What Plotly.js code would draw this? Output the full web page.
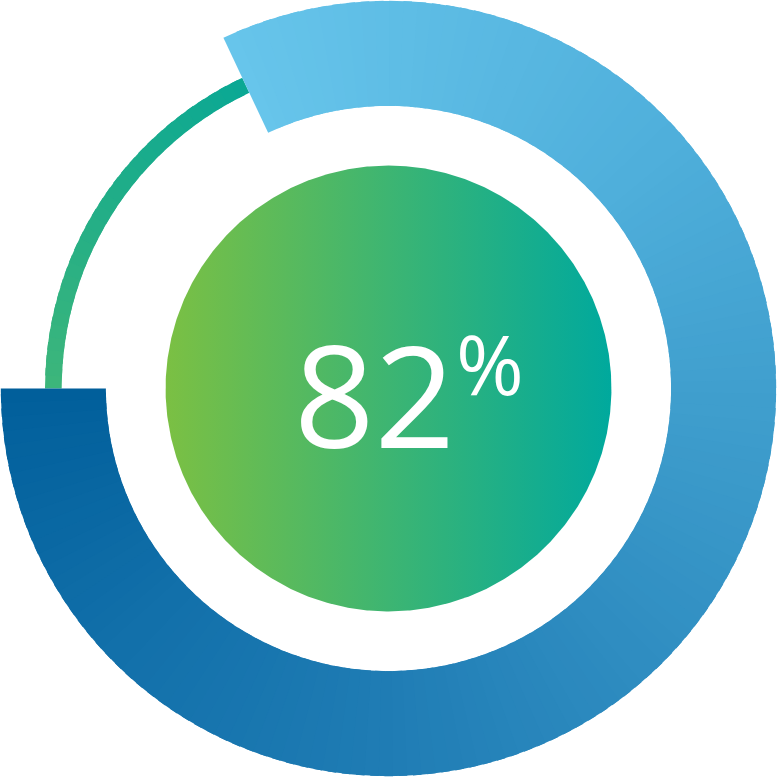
<!DOCTYPE html>
<html>
<head>
<meta charset="utf-8">
<script src="https://cdn.plot.ly/plotly-3.0.1.min.js"></script>
<style>
  html, body { margin: 0; padding: 0; background: #ffffff; }
  #chart { width: 777px; height: 777px; }
</style>
</head>
<body>
<div id="chart"></div>
<script>
// chart values
const labels = ["Complete", "Remaining"];
const values = [82, 18];
const valueText = ["82", "%"];

// ring geometry (unit = outer radius)
const R_OUTER = 1.0;
const R_INNER = 0.729;
const THIN_OUT = 0.886;
const THIN_IN = 0.843;
const R_CORE = 0.575;
const START_DEG = 270; // remainder starts at 9 o'clock, runs clockwise

const mainScale = [
  [0, "#67c5eb"],
  [0.25, "#4fafdb"],
  [0.4, "#3f9ecd"],
  [0.55, "#2f8dc1"],
  [0.7, "#1f7cb4"],
  [0.85, "#1270aa"],
  [1, "#015f9b"],
];
const restScale = [
  [0, "#3db67b"],
  [0.5, "#22ae87"],
  [1, "#0aa894"],
];

function hexToRgb(h) {
  const n = parseInt(h.slice(1), 16);
  return [(n >> 16) & 255, (n >> 8) & 255, n & 255];
}

function pickColor(scale, t) {
  for (let i = 1; i < scale.length; i++) {
    if (t <= scale[i][0]) {
      const [t0, c0] = scale[i - 1];
      const [t1, c1] = scale[i];
      const f = (t - t0) / (t1 - t0 || 1);
      const a = hexToRgb(c0), b = hexToRgb(c1);
      const c = a.map((v, k) => Math.round(v + (b[k] - v) * f));
      return `rgb(${c[0]},${c[1]},${c[2]})`;
    }
  }
  return scale[scale.length - 1][1];
}

// angles in degrees, clockwise from 12 o'clock
function arcPolygon(a0, a1, r0, r1) {
  const n = Math.max(2, Math.ceil(Math.abs(a1 - a0) / 0.5));
  const xs = [], ys = [];
  for (let i = 0; i <= n; i++) {
    const a = ((a0 + (a1 - a0) * i / n) * Math.PI) / 180;
    xs.push(r1 * Math.sin(a));
    ys.push(r1 * Math.cos(a));
  }
  for (let i = n; i >= 0; i--) {
    const a = ((a0 + (a1 - a0) * i / n) * Math.PI) / 180;
    xs.push(r0 * Math.sin(a));
    ys.push(r0 * Math.cos(a));
  }
  xs.push(xs[0]);
  ys.push(ys[0]);
  return { x: xs, y: ys };
}

// split an arc into small solid pieces to fake a conic gradient
function gradientArc(a0, a1, r0, r1, scale, pieces, name) {
  const step = (a1 - a0) / pieces;
  const traces = [];
  for (let i = 0; i < pieces; i++) {
    const s = a0 + step * i;
    // overlap the next piece a bit so no seams show
    const e = i < pieces - 1 ? s + step * 1.6 : a1;
    const p = arcPolygon(s, e, r0, r1);
    const col = pickColor(scale, (i + 0.5) / pieces);
    traces.push({
      type: "scatter",
      mode: "lines",
      name: name,
      x: p.x,
      y: p.y,
      fill: "toself",
      fillcolor: col,
      line: { width: 0, color: col },
      hoverinfo: "skip",
      showlegend: false,
    });
  }
  return traces;
}

const total = values.reduce((a, b) => a + b, 0);
const restSpan = (values[1] / total) * 360;
const restEnd = START_DEG + restSpan;

const data = [];
// thin remainder arc: 9 o'clock -> end of remainder
data.push(...gradientArc(START_DEG, restEnd, THIN_IN, THIN_OUT, restScale, 30, labels[1]));
// thick progress arc: from end of remainder round to 9 o'clock
data.push(...gradientArc(restEnd, START_DEG + 360, R_INNER, R_OUTER, mainScale, 140, labels[0]));

// center disc with horizontal gradient
const core = arcPolygon(0, 360, 0, R_CORE);
data.push({
  type: "scatter",
  mode: "lines",
  x: core.x.slice(0, core.x.length / 2),
  y: core.y.slice(0, core.y.length / 2),
  fill: "toself",
  fillgradient: {
    type: "horizontal",
    colorscale: [
      [0, "#7bc043"],
      [0.5, "#3db572"],
      [1, "#00a99d"],
    ],
  },
  line: { width: 0 },
  hoverinfo: "skip",
  showlegend: false,
});

const layout = {
  width: 777,
  height: 777,
  margin: { l: 0, r: 0, t: 0, b: 0, pad: 0 },
  paper_bgcolor: "#ffffff",
  plot_bgcolor: "#ffffff",
  showlegend: false,
  xaxis: {
    range: [-1.002, 1.002],
    visible: false,
    fixedrange: true,
  },
  yaxis: {
    range: [-1.002, 1.002],
    visible: false,
    scaleanchor: "x",
    scaleratio: 1,
    fixedrange: true,
  },
  annotations: [
    {
      x: -0.037,
      y: -0.012,
      xref: "x",
      yref: "y",
      text: valueText[0],
      showarrow: false,
      xanchor: "center",
      yanchor: "middle",
      font: { family: "Open Sans, sans-serif", size: 141, color: "#ffffff" },
    },
    {
      x: 0.262,
      y: 0.065,
      xref: "x",
      yref: "y",
      text: valueText[1],
      showarrow: false,
      xanchor: "center",
      yanchor: "middle",
      font: { family: "Open Sans, sans-serif", size: 82, color: "#ffffff" },
    },
  ],
};

Plotly.newPlot("chart", data, layout, { staticPlot: true, displayModeBar: false });
</script>
</body>
</html>
